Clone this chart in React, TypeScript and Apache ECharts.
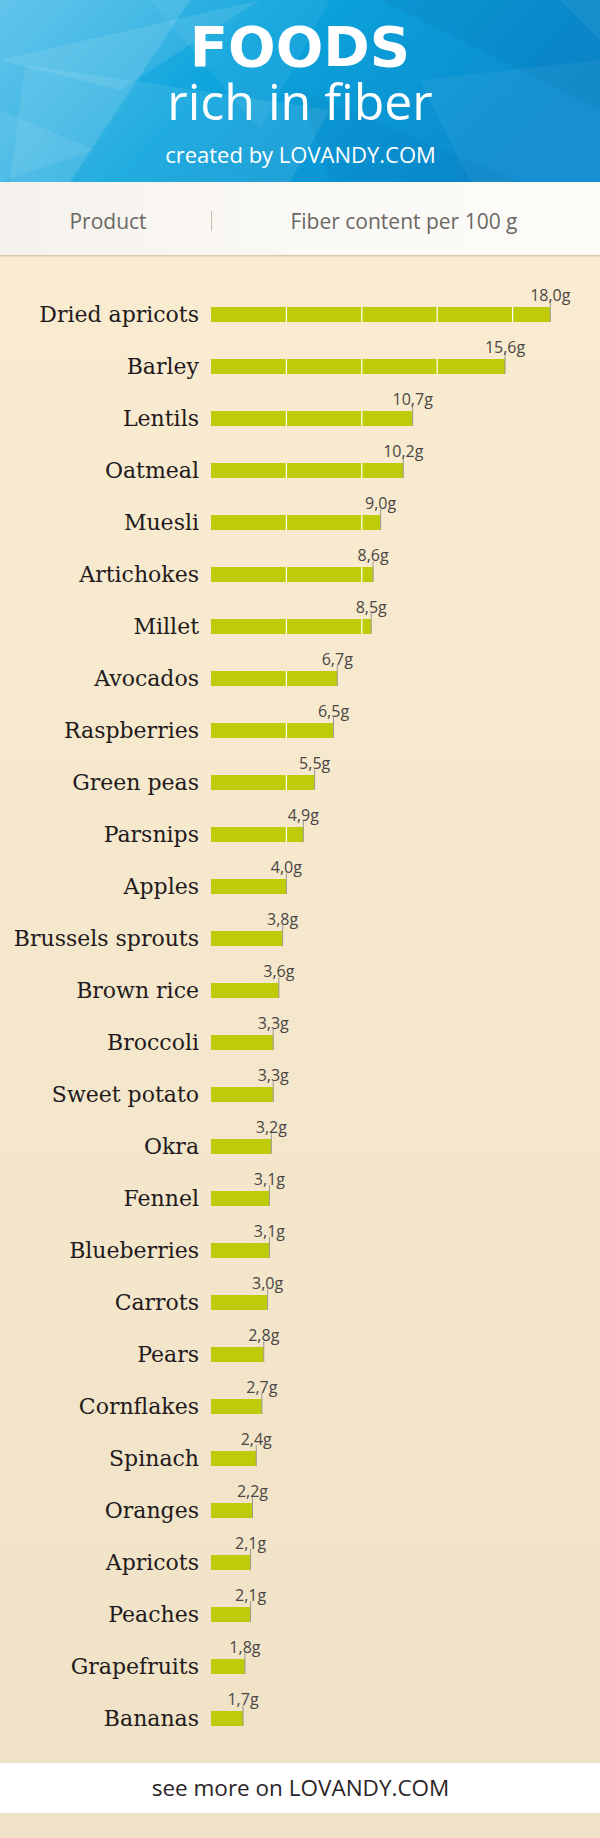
import React, { useEffect, useRef } from "react";
import * as echarts from "echarts";

const categories = [
  "Dried apricots", "Barley", "Lentils", "Oatmeal", "Muesli", "Artichokes", "Millet",
  "Avocados", "Raspberries", "Green peas", "Parsnips", "Apples", "Brussels sprouts",
  "Brown rice", "Broccoli", "Sweet potato", "Okra", "Fennel", "Blueberries", "Carrots",
  "Pears", "Cornflakes", "Spinach", "Oranges", "Apricots", "Peaches", "Grapefruits", "Bananas",
];
const fiberValues = [
  18.0, 15.6, 10.7, 10.2, 9.0, 8.6, 8.5, 6.7, 6.5, 5.5, 4.9, 4.0, 3.8, 3.6, 3.3, 3.3,
  3.2, 3.1, 3.1, 3.0, 2.8, 2.7, 2.4, 2.2, 2.1, 2.1, 1.8, 1.7,
];
const segmentTicks = [4, 8, 12, 16];

const W = 600;
const H = 1838;
const SANS = "'Open Sans', 'DejaVu Sans', sans-serif";
const SERIF = "'DejaVu Serif', serif";

function fmt(v: number) {
  return v.toFixed(1).replace(".", ",") + "g";
}

export default function App() {
  const ref = useRef<HTMLDivElement>(null);
  useEffect(() => {
    if (!ref.current) return;
    const chart = echarts.init(ref.current, undefined, { renderer: "svg" });
    const barH = 15;

    const renderItem = (params: any, api: any) => {
      const v = api.value(0);
      const idx = api.value(1);
      const p0 = api.coord([0, idx]);
      const p1 = api.coord([v, idx]);
      const cy = p0[1];
      const children: any[] = [
        {
          type: "rect",
          shape: { x: p0[0], y: cy - barH / 2, width: p1[0] - p0[0], height: barH },
          style: { fill: "#bfcb07" },
        },
      ];
      segmentTicks.forEach((t) => {
        if (t < v - 0.05) {
          const px = api.coord([t, idx])[0];
          children.push({
            type: "line",
            shape: { x1: px, y1: cy - barH / 2, x2: px, y2: cy + barH / 2 },
            style: { stroke: "#ffffff", lineWidth: 1.2 },
          });
        }
      });
      children.push({
        type: "line",
        shape: { x1: p1[0], y1: cy + barH / 2, x2: p1[0], y2: cy - barH / 2 - 6 },
        style: { stroke: "#9a9a94", lineWidth: 1 },
      });
      children.push({
        type: "text",
        style: {
          text: fmt(v),
          x: p1[0],
          y: cy - 19.5,
          align: "center",
          verticalAlign: "middle",
          fill: "#4a4646",
          fontSize: 16,
          lineHeight: 16,
          fontFamily: SANS,
        },
      });
      return { type: "group", children };
    };

    const headerPolys: { pts: number[][]; c: string }[] = [
      { pts: [[0, 0], [190, 0], [70, 182], [0, 182]], c: "rgba(255,255,255,0.13)" },
      { pts: [[0, 60], [260, 0], [120, 90]], c: "rgba(255,255,255,0.10)" },
      { pts: [[25, 65], [330, 110], [290, 182], [10, 182]], c: "rgba(255,255,255,0.09)" },
      { pts: [[0, 110], [95, 150], [0, 182]], c: "rgba(255,255,255,0.08)" },
      { pts: [[150, 0], [330, 0], [260, 130]], c: "rgba(255,255,255,0.06)" },
      { pts: [[380, 0], [600, 0], [600, 110]], c: "rgba(0,40,110,0.06)" },
      { pts: [[420, 80], [600, 60], [600, 182], [470, 182]], c: "rgba(255,255,255,0.05)" },
      { pts: [[300, 90], [520, 182], [330, 182]], c: "rgba(0,50,120,0.05)" },
      { pts: [[560, 0], [600, 0], [600, 40]], c: "rgba(255,255,255,0.06)" },
    ];

    const graphic: any[] = [
      {
        type: "rect",
        z: -10,
        silent: true,
        shape: { x: 0, y: 0, width: W, height: H },
        style: {
          fill: new echarts.graphic.LinearGradient(0, 0, 0, 1, [
            { offset: 0, color: "#fbedd1" },
            { offset: 1, color: "#efe2c6" },
          ]),
        },
      },
      {
        type: "rect",
        z: -9,
        silent: true,
        shape: { x: 0, y: 0, width: W, height: 182 },
        style: {
          fill: new echarts.graphic.LinearGradient(0, 0, 1, 0.3, [
            { offset: 0, color: "#4cbde9" },
            { offset: 0.45, color: "#0ca4dc" },
            { offset: 1, color: "#0a8bce" },
          ]),
        },
      },
      ...headerPolys.map((p) => ({
        type: "polygon",
        z: -8,
        silent: true,
        shape: { points: p.pts },
        style: { fill: p.c },
      })),
      {
        type: "rect",
        z: -8,
        silent: true,
        shape: { x: 0, y: 182, width: W, height: 73 },
        style: {
          fill: new echarts.graphic.LinearGradient(0, 0, 1, 0, [
            { offset: 0, color: "#f5f2ed" },
            { offset: 0.5, color: "#fbf9f5" },
            { offset: 1, color: "#fdfbf7" },
          ]),
        },
      },
      {
        type: "rect",
        z: -8,
        silent: true,
        shape: { x: 0, y: 255, width: W, height: 1.5 },
        style: { fill: "#d9caab" },
      },
      {
        type: "line",
        z: -7,
        silent: true,
        shape: { x1: 211.5, y1: 211, x2: 211.5, y2: 231 },
        style: { stroke: "#c9bba6", lineWidth: 1 },
      },
      {
        type: "rect",
        z: -8,
        silent: true,
        shape: { x: 0, y: 1763, width: W, height: 50 },
        style: { fill: "#ffffff" },
      },
      {
        type: "text",
        z: 5,
        style: {
          text: "FOODS",
          x: 300,
          y: 46,
          align: "center",
          verticalAlign: "middle",
          fill: "#ffffff",
          fontSize: 56,
          lineHeight: 44,
          fontWeight: "bold",
          fontFamily: "'DejaVu Sans', sans-serif",
        },
      },
      {
        type: "text",
        z: 5,
        style: {
          text: "rich in fiber",
          x: 300,
          y: 100.5,
          align: "center",
          verticalAlign: "middle",
          fill: "#ffffff",
          fontSize: 50,
          lineHeight: 46,
          fontFamily: SANS,
        },
      },
      {
        type: "text",
        z: 5,
        style: {
          text: "created by LOVANDY.COM",
          x: 300.5,
          y: 154,
          align: "center",
          verticalAlign: "middle",
          fill: "#ffffff",
          fontSize: 22,
          lineHeight: 22,
          fontFamily: SANS,
        },
      },
      {
        type: "text",
        z: 5,
        style: {
          text: "Product",
          x: 108,
          y: 221,
          align: "center",
          verticalAlign: "middle",
          fill: "#6b6864",
          fontSize: 21,
          fontFamily: SANS,
        },
      },
      {
        type: "text",
        z: 5,
        style: {
          text: "Fiber content per 100 g",
          x: 404,
          y: 221,
          align: "center",
          verticalAlign: "middle",
          fill: "#6b6864",
          fontSize: 21,
          fontFamily: SANS,
        },
      },
      {
        type: "text",
        z: 5,
        style: {
          text: "see more on LOVANDY.COM",
          x: 300.5,
          y: 1787.5,
          align: "center",
          verticalAlign: "middle",
          fill: "#2b2427",
          fontSize: 22.5,
          fontFamily: SANS,
        },
      },
    ];

    chart.setOption({
      animation: false,
      graphic,
      grid: { left: 211, width: 377, top: 288.5, height: 1456 },
      xAxis: {
        type: "value",
        min: 0,
        max: 20,
        show: false,
      },
      yAxis: {
        type: "category",
        data: categories,
        inverse: true,
        axisLine: { show: false },
        axisTick: { show: false },
        splitLine: { show: false },
        axisLabel: {
          margin: 12,
          color: "#221a1c",
          fontSize: 22,
          fontFamily: SERIF,
        },
      },
      series: [
        {
          type: "custom",
          renderItem,
          data: fiberValues.map((v, i) => [v, i]),
          encode: { x: 0, y: 1 },
          clip: false,
        },
      ],
    });
    return () => chart.dispose();
  }, []);
  return (
    <div
      ref={ref}
      style={{ position: "absolute", left: 0, top: 0, width: W, height: H }}
    />
  );
}
